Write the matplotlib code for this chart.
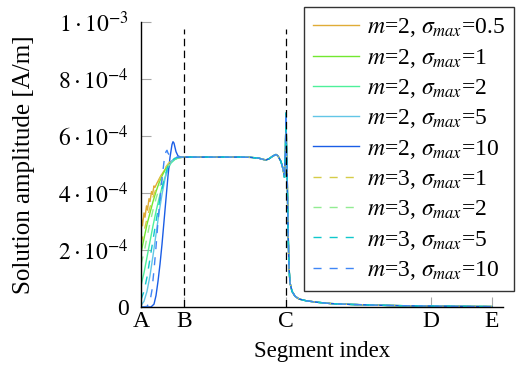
import matplotlib
matplotlib.use("Agg")
import matplotlib.pyplot as plt

plt.rcParams["font.family"] = ["Liberation Serif", "DejaVu Serif"]
plt.rcParams["mathtext.fontset"] = "stix"

# Segment positions (arbitrary index units, A at 0)
SEG_POS = [0, 43, 145, 290, 351]
SEG_NAMES = ["A", "B", "C", "D", "E"]
X_MAX = 362

Y_TICKS = [0, 2e-4, 4e-4, 6e-4, 8e-4, 1e-3]
Y_TICKLABELS = ["0", r"$2\cdot10^{-4}$", r"$4\cdot10^{-4}$", r"$6\cdot10^{-4}$",
                r"$8\cdot10^{-4}$", r"$1\cdot10^{-3}$"]

# Shared part of every curve (B -> E), amplitude in 1e-4 A/m
x_rest = [60, 80, 100, 110, 118, 122, 125, 128, 132, 135, 137, 140, 142, 143.5,
          144.5, 145, 145.6, 146.2, 147, 148, 149, 151, 154, 158, 165, 175, 190,
          210, 240, 270, 300, 330, 351]
y_rest = [5.26, 5.26, 5.26, 5.25, 5.22, 5.18, 5.16, 5.2, 5.3, 5.35, 5.3, 5.1,
          4.85, 4.55, 5.6, 6.8, 5.4, 4.6, 2.8, 1.4, 0.85, 0.55, 0.38, 0.28, 0.22,
          0.17, 0.12, 0.09, 0.06, 0.04, 0.03, 0.02, 0.015]

# Rise A -> B, one per configuration
x_m2_s05 = [0, 1.5, 3, 4, 5.5, 6.5, 8, 9, 10.5, 11.5, 13, 14, 16, 19, 22, 25, 28, 32, 37, 43]
y_m2_s05 = [3.2, 2.85, 3.3, 3.15, 3.55, 3.4, 3.8, 3.7, 4.05, 3.95, 4.25, 4.2, 4.35,
            4.55, 4.72, 4.88, 5.02, 5.15, 5.23, 5.26]

x_even = [0, 3, 6, 9, 12, 15, 18, 21, 24, 27, 30, 34, 38, 43]
y_m2_s1 = [1.9, 2.4, 2.9, 3.3, 3.7, 4.05, 4.35, 4.6, 4.8, 4.98, 5.1, 5.2, 5.24, 5.26]
y_m2_s2 = [0.75, 1.2, 1.75, 2.3, 2.85, 3.35, 3.8, 4.2, 4.55, 4.85, 5.05, 5.18, 5.24, 5.26]
y_m2_s5 = [0.05, 0.2, 0.55, 1.1, 1.8, 2.55, 3.3, 3.95, 4.5, 4.9, 5.1, 5.22, 5.25, 5.26]
y_m3_s1 = [2.2, 2.65, 3.1, 3.5, 3.85, 4.15, 4.45, 4.68, 4.87, 5.02, 5.13, 5.21, 5.25, 5.26]
y_m3_s2 = [1.5, 1.9, 2.45, 2.95, 3.4, 3.8, 4.15, 4.45, 4.72, 4.92, 5.08, 5.19, 5.24, 5.26]
y_m3_s5 = [0.25, 0.55, 1.05, 1.7, 2.35, 3.0, 3.6, 4.15, 4.6, 4.95, 5.12, 5.22, 5.25, 5.26]

x_m2_s10 = [0, 10, 13, 15, 17, 19, 21, 23, 25, 27, 29, 31, 32, 33, 35, 37, 40, 43]
y_m2_s10 = [0, 0, 0.1, 0.4, 0.9, 1.5, 2.2, 3.0, 3.8, 4.6, 5.25, 5.7, 5.8, 5.75,
            5.45, 5.3, 5.26, 5.26]
x_m3_s10 = [0, 6, 9, 11, 13, 15, 17, 19, 21, 23, 25, 26, 27, 29, 32, 43]
y_m3_s10 = [0, 0.02, 0.2, 0.6, 1.3, 2.1, 3.0, 3.8, 4.5, 5.1, 5.45, 5.5, 5.4, 5.3, 5.26, 5.26]

# label, head x, head y, colour, dashed
curves = [
    (r"$m$=2, $\sigma_{max}$=0.5", x_m2_s05, y_m2_s05, "#e0ac36", False),
    (r"$m$=2, $\sigma_{max}$=1", x_even, y_m2_s1, "#72e830", False),
    (r"$m$=2, $\sigma_{max}$=2", x_even, y_m2_s2, "#4ef09a", False),
    (r"$m$=2, $\sigma_{max}$=5", x_even, y_m2_s5, "#62c6e6", False),
    (r"$m$=2, $\sigma_{max}$=10", x_m2_s10, y_m2_s10, "#1a5de6", False),
    (r"$m$=3, $\sigma_{max}$=1", x_even, y_m3_s1, "#d6cc48", True),
    (r"$m$=3, $\sigma_{max}$=2", x_even, y_m3_s2, "#92ec92", True),
    (r"$m$=3, $\sigma_{max}$=5", x_even, y_m3_s5, "#10c8cc", True),
    (r"$m$=3, $\sigma_{max}$=10", x_m3_s10, y_m3_s10, "#3f86f6", True),
]

fig = plt.figure(figsize=(5.3, 3.7), dpi=100)
ax = fig.add_axes([141 / 530, 1 - 307 / 370, 362 / 530, 285 / 370])

for label, xh, yh, color, dashed in curves:
    xs = list(xh) + x_rest
    ys = [v * 1e-4 for v in list(yh) + y_rest]
    # dashes ~8px on / 8px off
    ls = (0, (5.8, 5.8)) if dashed else "-"
    ax.plot(xs, ys, color=color, linewidth=1.0, linestyle=ls, label=label)

# Dashed markers at B and C
for p in SEG_POS[1:3]:
    ax.axvline(p, ymax=0.975, color="black", linewidth=0.9,
               linestyle=(0, (6, 3.5)), zorder=5)

ax.set_xlim(0, X_MAX)
ax.set_ylim(0, 1e-3)
ax.set_xticks(SEG_POS)
ax.set_xticklabels(SEG_NAMES)
ax.set_yticks(Y_TICKS)
ax.set_yticklabels(Y_TICKLABELS)
ax.tick_params(direction="in", color="#a8a8a8", length=7.5, width=0.8,
               labelsize=17)
ax.tick_params(axis="y", pad=9)
ax.tick_params(axis="x", pad=3)

for side in ("top", "right"):
    ax.spines[side].set_visible(False)
for side in ("left", "bottom"):
    ax.spines[side].set_linewidth(1.0)

ax.set_xlabel("Segment index", fontsize=16.5, labelpad=6)
ax.set_ylabel("Solution amplitude [A/m]", fontsize=18)
ax.yaxis.set_label_coords(-106 / 362, 0.5)

leg = ax.legend(loc="upper left", bbox_to_anchor=(304 / 530, 1 - 7 / 370),
                bbox_transform=fig.transFigure, borderaxespad=0,
                fontsize=17, frameon=True, fancybox=False,
                handlelength=1.95, handletextpad=0.3, labelspacing=0.31,
                borderpad=0.4)
leg.get_frame().set_edgecolor("black")
leg.get_frame().set_linewidth(1.0)

fig.savefig("out.png", dpi=100)
